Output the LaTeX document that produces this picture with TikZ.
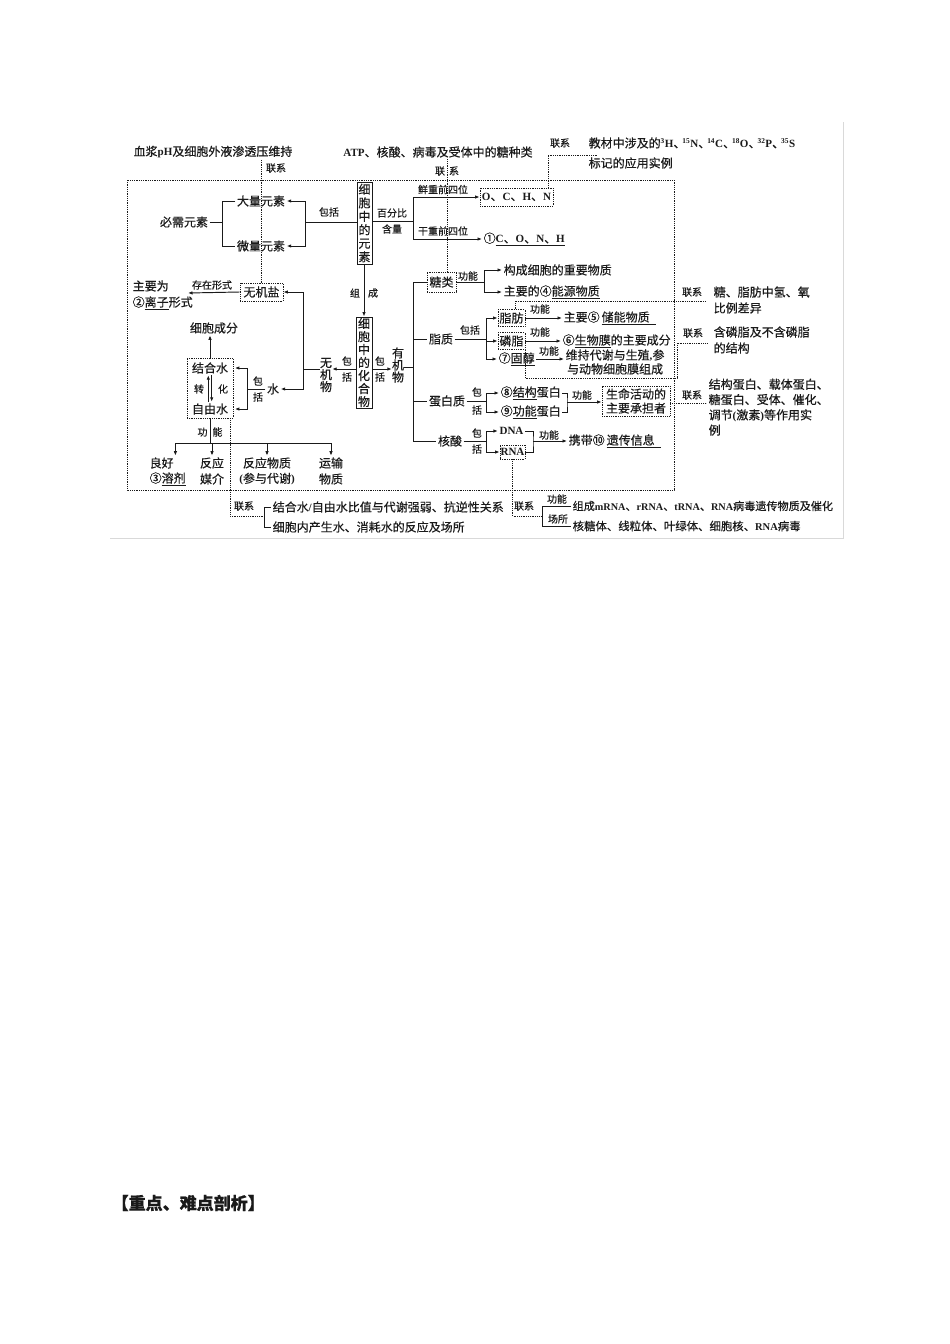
\documentclass[tikz,border=0pt]{standalone}
\usepackage{fontspec}
\setmainfont{Noto Sans CJK SC}[FakeBold=0.4]
\newfontfamily\lat{Liberation Serif}[Scale=0.92]
\newcommand\lt[1]{{\lat\bfseries #1}}
\usetikzlibrary{arrows.meta}
\definecolor{ink}{HTML}{1A1A1A}
\begin{document}
\begin{tikzpicture}[x=1pt,y=-1pt,
  every node/.style={inner sep=1.5pt, text=ink},
  tx/.style={font=\fontsize{12}{14}\selectfont},
  sm/.style={font=\fontsize{10}{12}\selectfont},
  ln/.style={draw=ink, line width=0.95pt},
  ar/.style={ln, -{Latex[length=4.5pt,width=3.5pt]}},
  dt/.style={draw=ink, line width=0.8pt, densely dotted},
  dbox/.style={dt, inner sep=1pt},
  vbox/.style={draw=ink, line width=0.95pt, inner sep=0pt, align=center, font=\fontsize{12}{13.5}\selectfont},
  vtx/.style={inner sep=0pt, align=center, font=\fontsize{12}{12}\selectfont},
]
\useasboundingbox (0,0) rectangle (950,1344);
\fill[white] (0,0) rectangle (950,1344);
\draw[black!15, line width=0.8pt] (843,122) -- (843,538) -- (110,538);

% big dotted frame
\draw[dt] (127,180) rectangle (674,490);

% top texts
\node[tx] (tA) at (213,152) {血浆\lt{pH}及细胞外液渗透压维持};
\node[tx] (tB) at (438,152) {\lt{ATP}、核酸、病毒及受体中的糖种类};
\node[sm] (lxTL) at (276,168) {联系};
\node[sm] (lxTM) at (447,171) {联\hspace{4pt}系};
\node[sm] (lxTR) at (560,143) {联系};
\node[tx, anchor=west] (tC1) at (587,143) {教材中涉及的\lt{\textsuperscript{3}H}、\kern-3pt\lt{\textsuperscript{15}N}、\kern-3pt\lt{\textsuperscript{14}C}、\kern-3pt\lt{\textsuperscript{18}O}、\kern-3pt\lt{\textsuperscript{32}P}、\kern-3pt\lt{\textsuperscript{35}S}};
\node[tx, anchor=west] (tC2) at (587,163) {标记的应用实例};

% elements
\node[tx] (bixu) at (184,222) {必需元素};
\node[tx] (daliang) at (261,201) {大量元素};
\node[tx] (weiliang) at (261,246) {微量元素};
\node[vbox, minimum width=15pt, minimum height=82pt] (elem) at (364.5,223) {细\\胞\\中\\的\\元\\素};
\node[sm] (bk1) at (329,212) {包括};
\coordinate (jb) at (222,222);
\coordinate (jr) at (305,222);
\draw[ln] (bixu.east) -- (jb);
\draw[ln] (daliang.west) -- (daliang.west -| jb) -- (weiliang.west -| jb) -- (weiliang.west);
\draw[ln] (elem.west |- jr) -- (jr);
\draw[ar] (jr) |- (daliang.east);
\draw[ar] (jr) |- (weiliang.east);

\node[sm] (pct1) at (392,213) {百分比};
\node[sm] (pct2) at (392,229) {含量};
\coordinate (jp) at (413,221);
\draw[ln] (elem.east |- jp) -- (jp);
\node[dbox, tx, minimum width=73pt, minimum height=18pt] (fresh) at (516.5,197) {\lt{O}、\lt{C}、\lt{H}、\lt{N}};
\node[tx, anchor=west] (dry) at (482,239) {①\underline{\lt{C}、\lt{O}、\lt{N}、\lt{H}}};
\node[sm] (xz) at (443,189.5) {鲜重前四位};
\node[sm] (gz) at (443,231) {干重前四位};
\draw[ar] (jp) |- (fresh.west);
\draw[ar] (jp) |- (dry.west);

% top-right link
\coordinate (cTR) at (548,155);
\coordinate (cTRe) at (597,155);
\draw[dt] (fresh.north -| cTR) -- (cTR) -- (cTRe);

% compounds
\node[vbox, minimum width=16pt, minimum height=91pt, font=\fontsize{12}{13}\selectfont] (cpd) at (364,362.5) {细\\胞\\中\\的\\化\\合\\物};
\draw[ar] (elem.south -| cpd.north) -- (cpd.north);
\node[sm] (zu) at (355,293) {组};
\node[sm] (cheng) at (373,293) {成};
\node[vtx] (wjw) at (326,375) {无\\机\\物};
\node[vtx] (yjw) at (398,365) {有\\机\\物};
\node[sm] (bkL1) at (347,361) {包};
\node[sm] (bkL2) at (347,377) {括};
\node[sm] (bkR1) at (380,361) {包};
\node[sm] (bkR2) at (380,377) {括};
\coordinate (yL) at (0,369);
\draw[ar] (cpd.west |- yL) -- (wjw.east |- yL);
\draw[ar] (cpd.east |- yL) -- (yjw.west |- yL);

% inorganic
\node[dbox, tx, minimum width=43pt, minimum height=18pt] (wjy) at (261.5,292) {无机盐};
\draw[dt] (wjy.north |- tA.south) -- (wjy.north);
\node[tx] (shui) at (273,389) {水};
\coordinate (sp) at (303,369);
\draw[ln] (wjw.west |- sp) -- (sp);
\draw[ar] (sp) |- (wjy.east);
\draw[ar] (sp) |- (shui.east);
\node[sm] (czxs) at (212,285) {存在形式};
\node[tx, anchor=west] (zy1) at (131,286) {主要为};
\node[tx, anchor=west] (zy2) at (131,303) {②\underline{离子}形式};
\coordinate (ionTip) at (188,293);
\draw[ar] (wjy.west) -- (ionTip);

\node[dbox, minimum width=46pt, minimum height=60pt] (wbox) at (210,388) {};
\node[tx] (jhs) at (210,368) {结合水};
\node[tx] (zys) at (210,409) {自由水};
\node[sm] (zhuan) at (199,389) {转};
\node[sm] (hua) at (223,389) {化};
\draw[ar] ([xshift=-1.7pt]zys.north) -- ([xshift=-1.7pt]jhs.south);
\draw[ar] ([xshift=1.7pt]jhs.south) -- ([xshift=1.7pt]zys.north);
\node[tx] (cbcf) at (214,328) {细胞成分};
\draw[ar] (wbox.north) -- (wbox.north |- cbcf.south);
\node[sm] (bkW1) at (258,381) {包};
\node[sm] (bkW2) at (258,397) {括};
\coordinate (sb) at (247,389);
\draw[ln] (shui.west) -- (sb);
\draw[ar, shorten >=1.5pt] (sb) |- (jhs.east -| wbox.east);
\draw[ar, shorten >=1.5pt] (sb) |- (zys.east -| wbox.east);

\node[sm] (gn1) at (210,432) {功\hspace{5pt}能};
\coordinate (gbar) at (210,443);
\draw[ln] (wbox.south) -- (gbar);
\node[tx, anchor=west] (lh1) at (148,463) {良好};
\node[tx, anchor=west] (lh2) at (148,479) {③\underline{溶剂}};
\node[tx] (fy1) at (212,463) {反应};
\node[tx] (fy2) at (212,479) {媒介};
\node[tx] (fw1) at (267,463) {反应物质};
\node[tx] (fw2) at (267,479) {\lt{(}参与代谢\lt{)}};
\node[tx] (ys1) at (331,463) {运输};
\node[tx] (ys2) at (331,479) {物质};
\draw[ln] (gbar -| lh1.north east) -- (gbar -| ys1.north);
\draw[ar] (gbar -| lh1.north east) -- (lh1.north east);
\draw[ar] (gbar -| fy1.north) -- (fy1.north);
\draw[ar] (gbar -| fw1.north) -- (fw1.north);
\draw[ar] (gbar -| ys1.north) -- (ys1.north);

% bottom-left link
\node[sm] (lxBL) at (244,506) {联系};
\coordinate (bjL) at (264,516);
\node[tx, anchor=west] (bl1) at (271,507) {结合水\lt{/}自由水比值与代谢强弱、抗逆性关系};
\node[tx, anchor=west] (bl2) at (271,527) {细胞内产生水、消耗水的反应及场所};
\draw[ln] (bl1.west) -- (bl1.west -| bjL) -- (bl2.west -| bjL) -- (bl2.west);
\draw[dt] ([xshift=-3pt]wbox.south east) |- (bjL);

% organic spine
\coordinate (so) at (413,367);
\draw[ln] (yjw.east |- so) -- (so);
\node[dbox, tx, minimum width=29pt, minimum height=20pt] (tang) at (441.5,282) {糖类};
\node[tx] (zz) at (441,339) {脂质};
\node[tx] (dbz) at (447,401) {蛋白质};
\node[tx] (hs) at (450,441) {核酸};
\draw[ln] (so |- tang) -- (so |- hs);
\draw[ln] (so |- tang) -- (tang.west);
\draw[ln] (so |- zz) -- (zz.west);
\draw[ln] (so |- dbz) -- (dbz.west);
\draw[ln] (so |- hs) -- (hs.west);
\draw[dt] (lxTM.center |- tB.south) -- (lxTM.center |- tang.north);

% sugars
\node[sm] (tgn) at (468,276) {功能};
\coordinate (tj) at (484,282);
\node[tx, anchor=west] (tf1) at (502,270) {构成细胞的重要物质};
\node[tx, anchor=west] (tf2) at (502,292) {主要的④\underline{能源物质}};
\draw[ln] (tang.east) -- (tj);
\draw[ar] (tj) |- (tf1.west);
\draw[ar] (tj) |- (tf2.west);

% lipids
\node[sm] (zbk) at (470,330) {包括};
\coordinate (zj) at (486,339);
\node[dbox, tx, minimum width=27pt, minimum height=17pt] (zf) at (511.5,318) {脂肪};
\node[dbox, tx, minimum width=27pt, minimum height=17pt] (lz) at (511.5,341) {磷脂};
\node[tx, anchor=west] (gc) at (497,359) {⑦\underline{固醇}};
\draw[ln] (zz.east) -- (zj);
\draw[ar] (zj) |- (zf.west);
\draw[ar] (zj) |- (lz.west);
\draw[ar] (zj) |- (gc.west);
\node[sm] (zgn) at (540,309) {功能};
\node[tx, anchor=west] (zf2) at (562,318) {主要⑤\,\underline{储能物质\hspace{6pt}}};
\draw[ar] (zf.east) -- (zf2.west);
\node[sm] (lgn) at (540,332) {功能};
\node[tx, anchor=west] (lz2) at (561,341) {⑥\underline{生物膜}的主要成分};
\draw[ar] (lz.east) -- (lz2.west);
\node[sm] (ggn) at (549,351) {功能};
\node[tx, anchor=west, align=center, font=\fontsize{12}{14}\selectfont] (gc2) at (564,362) {维持代谢与生殖\lt{,}参\\与动物细胞膜组成};
\draw[ar] (gc.east) -- (gc.east -| gc2.west);

\node[sm] (lxR1) at (692,292) {联系};
\coordinate (cz) at (706,301);
\draw[dt] ([xshift=3.5pt]zf.north) |- (cz);
\node[tx, anchor=west] (r1a) at (712,292) {糖、脂肪中氢、氧};
\node[tx, anchor=west] (r1b) at (712,308) {比例差异};
\node[sm] (lxR2) at (693,333) {联系};
\coordinate (cl1) at (677,378);
\coordinate (cl2) at (707,343);
\draw[dt] ([xshift=-0.5pt]lz.south east) |- (cl1) |- (cl2);
\node[tx, anchor=west] (r2a) at (712,332) {含磷脂及不含磷脂};
\node[tx, anchor=west] (r2b) at (712,348) {的结构};

% proteins
\node[sm] (dbk1) at (477,392) {包};
\node[sm] (dbk2) at (477,410) {括};
\coordinate (dj) at (486,401);
\node[tx, anchor=west] (jg) at (499,393) {⑧\underline{结构}蛋白};
\node[tx, anchor=west] (gnd) at (499,412) {⑨\underline{功能}蛋白};
\draw[ln] (dbz.east) -- (dj);
\draw[ar] (dj) |- (jg.west);
\draw[ar] (dj) |- (gnd.west);
\coordinate (dj2) at (567,402);
\draw[ln] (jg.east) -| (dj2) |- (gnd.east);
\node[sm] (dgn) at (582,395) {功能};
\node[dbox, tx, align=center, minimum width=68pt, minimum height=30pt, font=\fontsize{12}{14}\selectfont] (smhd) at (636,401) {生命活动的\\主要承担者};
\draw[ar] (dj2) -- (dj2 -| smhd.west);
\node[sm] (lxR3) at (692,395) {联系};
\draw[dt] ([yshift=-2pt]smhd.east) -- ++(36,0);
\node[tx, anchor=north west, align=left, font=\fontsize{12}{15.3}\selectfont] (r3) at (707,377) {结构蛋白、载体蛋白、\\糖蛋白、受体、催化、\\调节\lt{(}激素\lt{)}等作用实\\例};

% nucleic acids
\node[sm] (hbk1) at (477,433) {包};
\node[sm] (hbk2) at (477,449) {括};
\coordinate (hj) at (486,441);
\node[tx] (dna) at (511.5,431) {\lt{DNA}};
\node[dbox, tx, minimum width=25pt, minimum height=14pt, inner sep=0.5pt] (rna) at (512.5,452) {\lt{RNA}};
\draw[ln] (hs.east) -- (hj);
\draw[ar] (hj) |- (dna.west);
\draw[ar] (hj) |- (rna.west);
\coordinate (hj2) at (533,441);
\draw[ln] (dna.east) -| (hj2) |- (rna.east);
\node[sm] (hgn) at (549,435) {功能};
\node[tx, anchor=west] (xd) at (567,441) {携带⑩\,\underline{遗传信息\hspace{6pt}}};
\draw[ar] (hj2) -- (hj2 -| xd.west);

% RNA link
\node[sm] (lxBR) at (524,506) {联系};
\coordinate (rbj) at (542,516);
\draw[dt] (rna.south) |- (rbj);
\node[sm] (rgn) at (557,499) {功能};
\node[sm] (rcs) at (558,519) {场所};
\node[anchor=west, font=\fontsize{11.1}{13}\selectfont] (rf1) at (571,506) {组成\lt{mRNA}、\lt{rRNA}、\lt{tRNA}、\lt{RNA}病毒遗传物质及催化};
\node[anchor=west, font=\fontsize{11.4}{13}\selectfont] (rf2) at (571,526) {核糖体、线粒体、叶绿体、细胞核、\lt{RNA}病毒};
\draw[ln] (rf1.west) -- (rf1.west -| rbj) -- (rf2.west -| rbj) -- (rf2.west);

% title
\node[anchor=west, font=\fontsize{17}{19}\selectfont\bfseries] (title) at (110,1203) {【重点、难点剖析】};
\end{tikzpicture}
\end{document}
